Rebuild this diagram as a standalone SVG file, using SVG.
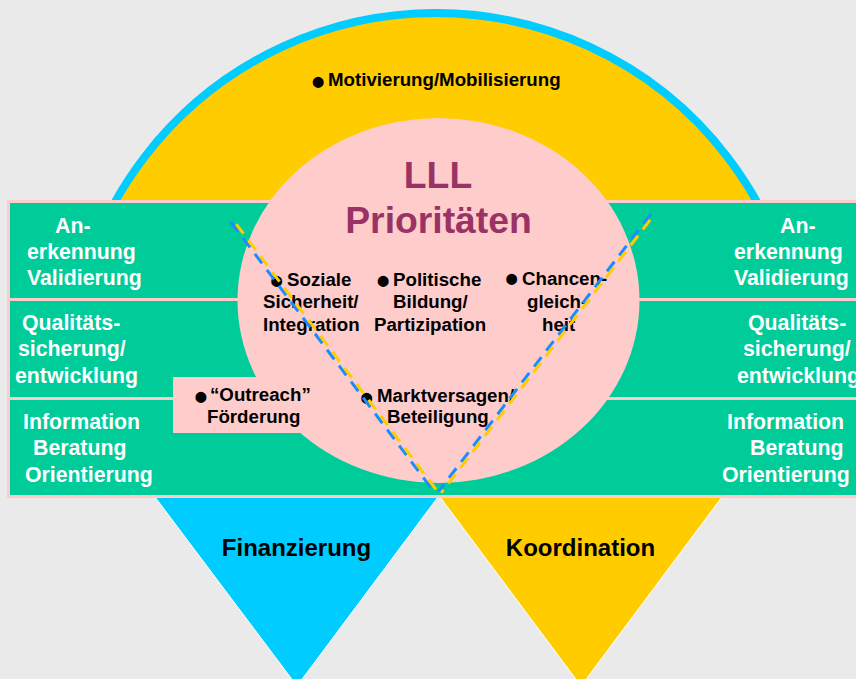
<svg xmlns="http://www.w3.org/2000/svg" width="856" height="679" viewBox="0 0 856 679">
<style>
text{font-family:"Liberation Sans",Arial,sans-serif;font-weight:bold}
.t{font-size:18.7px;fill:#000}
.w{font-size:21.3px;fill:#fff}
.b{font-size:38px;fill:#000}
.big{font-size:37.3px;fill:#993366;text-anchor:middle}
.tri{font-size:24px;fill:#000;text-anchor:middle}
.row{fill:#00CC99;stroke:#FFCCCC;stroke-width:3}
.db{fill:none;stroke:#1A8CFF;stroke-width:3;stroke-dasharray:12 8}
.dy{fill:none;stroke:#FFCC00;stroke-width:3;stroke-dasharray:12 8;stroke-dashoffset:-5}
</style>
<rect width="856" height="679" fill="#EAEAEA"/>
<g id="arc">
<path d="M 81.5 475 A 367 367 0 1 1 790.5 475 Z" fill="#FFCC00"/>
<path d="M 81.5 475 A 367 367 0 1 1 790.5 475" fill="none" stroke="#00CCFF" stroke-width="8"/>
<text class="t" x="328" y="86">Motivierung/Mobilisierung</text>
<text class="b" x="311.5" y="95.1">•</text>
</g>
<g id="triangle-finanzierung">
<polygon points="155,497 438,497 297,686" fill="#00CCFF" stroke="#FFFFFF" stroke-width="1"/>
<text class="tri" x="296.5" y="556">Finanzierung</text>
</g>
<g id="triangle-koordination">
<polygon points="440,497 722,497 581,686" fill="#FFCC00" stroke="#FFFFFF" stroke-width="1"/>
<text class="tri" x="580.5" y="556">Koordination</text>
</g>
<g id="band">
<rect x="7" y="200" width="860" height="298" fill="#FFCCCC"/>
<rect class="row" x="8.5" y="201.5" width="860" height="98"/>
<rect class="row" x="8.5" y="299.5" width="860" height="99"/>
<rect class="row" x="8.5" y="398.5" width="860" height="98"/>
</g>
<g id="row-left-1">
<text class="w" x="55" y="233">An-</text>
<text class="w" x="27" y="259">erkennung</text>
<text class="w" x="27" y="285">Validierung</text>
</g>
<g id="row-left-2">
<text class="w" x="22" y="330">Qualitäts-</text>
<text class="w" x="18" y="356">sicherung/</text>
<text class="w" x="15" y="383">entwicklung</text>
</g>
<g id="row-left-3">
<text class="w" x="23" y="429">Information</text>
<text class="w" x="33" y="455">Beratung</text>
<text class="w" x="25" y="482">Orientierung</text>
</g>
<g id="row-right-1">
<text class="w" x="780" y="233">An-</text>
<text class="w" x="734" y="259">erkennung</text>
<text class="w" x="734" y="285">Validierung</text>
</g>
<g id="row-right-2">
<text class="w" x="748" y="330">Qualitäts-</text>
<text class="w" x="743" y="356">sicherung/</text>
<text class="w" x="737" y="383">entwicklung</text>
</g>
<g id="row-right-3">
<text class="w" x="727" y="429">Information</text>
<text class="w" x="750" y="455">Beratung</text>
<text class="w" x="722" y="482">Orientierung</text>
</g>
<g id="center">
<ellipse cx="438.5" cy="300.5" rx="201" ry="182.5" fill="#FFCCCC"/>
<text class="big" x="438" y="188">LLL</text>
<text class="big" x="438.5" y="233">Prioritäten</text>
</g>
<g id="outreach">
<rect x="173" y="377" width="150" height="56" fill="#FFCCCC"/>
<text class="b" x="194.3" y="409.8">•</text>
<text class="t" x="210" y="401">“Outreach”</text>
<text class="t" x="207" y="423">Förderung</text>
</g>
<g id="soziale">
<text class="b" x="270" y="293.8">•</text>
<text class="t" x="287" y="286">Soziale</text>
<text class="t" x="263" y="308">Sicherheit/</text>
<text class="t" x="263" y="331">Integration</text>
</g>
<g id="politische">
<text class="b" x="376.5" y="293.8">•</text>
<text class="t" x="393" y="286">Politische</text>
<text class="t" x="393" y="308">Bildung/</text>
<text class="t" x="374" y="331">Partizipation</text>
</g>
<g id="chancen">
<text class="b" x="505" y="291.8">•</text>
<text class="t" x="522" y="285">Chancen-</text>
<text class="t" x="527" y="308">gleich-</text>
<text class="t" x="542" y="331">heit</text>
</g>
<g id="markt">
<text class="b" x="360" y="410.5">•</text>
<text class="t" x="377" y="402">Marktversagen/</text>
<text class="t" x="387" y="423">Beteiligung</text>
</g>
<g id="connectors">
<line class="db" x1="230.8" y1="221.9" x2="434.8" y2="492.9"/>
<line class="dy" x1="233.2" y1="220.1" x2="437.2" y2="491.1"/>
<line class="db" x1="650.8" y1="214.1" x2="438.8" y2="491.1"/>
<line class="dy" x1="653.2" y1="215.9" x2="441.2" y2="492.9"/>
</g>
</svg>
